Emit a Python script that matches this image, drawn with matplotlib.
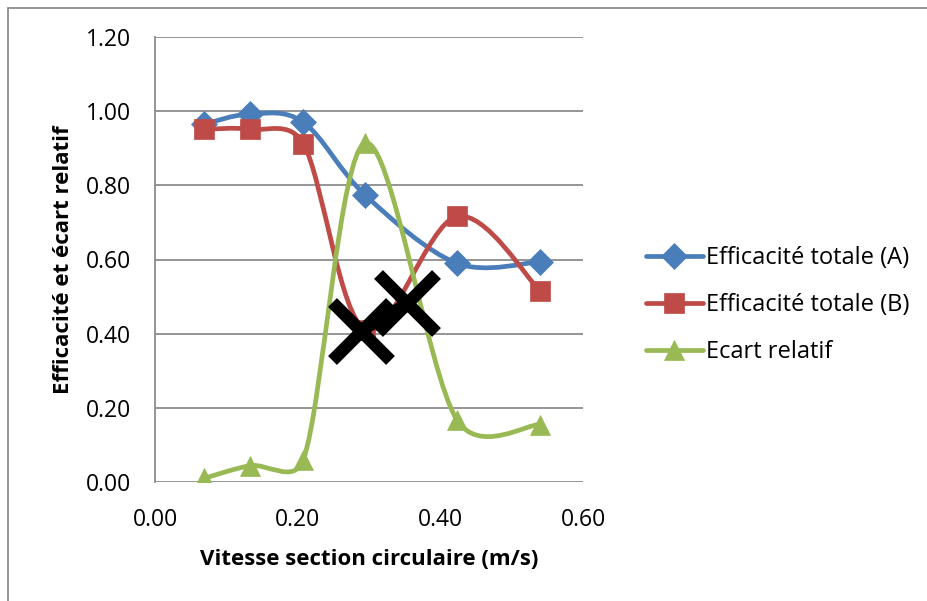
import numpy as np
import matplotlib
matplotlib.use("Agg")
import matplotlib.pyplot as plt
from matplotlib.path import Path
from matplotlib.patches import PathPatch, Rectangle
from matplotlib.lines import Line2D

plt.rcParams['font.family'] = ['Open Sans', 'DejaVu Sans']

vitesse = [0.069, 0.133, 0.208, 0.295, 0.423, 0.540]
eff_a = [0.965, 0.992, 0.970, 0.773, 0.590, 0.594]
eff_b = [0.951, 0.951, 0.912, 0.410, 0.716, 0.515]
ecart = [0.010, 0.044, 0.060, 0.914, 0.168, 0.155]
croix_x = [0.289, 0.353]
croix_y = [0.406, 0.483]

labels = ['Efficacité totale (A)', 'Efficacité totale (B)', 'Ecart relatif']
colors = ['#4A7EBB', '#BE4B48', '#98B954']
markers = ['D', 's', '^']
msizes = [13, 14, 14]
yticks = [0.0, 0.2, 0.4, 0.6, 0.8, 1.0, 1.2]
xticks = [0.0, 0.2, 0.4, 0.6]

AX_L, AX_R, AX_T, AX_B = 155, 583, 37, 482
XMAX, YMAX = 0.6, 1.2
SX = (AX_R - AX_L) / XMAX
SY = (AX_B - AX_T) / YMAX
LW = 3.4


def smooth_path(xs, ys):
    """Excel-like smoothed line: Bezier with control arms clamped to half a segment."""
    pts = np.column_stack([xs, ys]).astype(float)
    scr = pts * np.array([SX, SY])
    n = len(pts)
    verts = [pts[0]]
    codes = [Path.MOVETO]
    for i in range(n - 1):
        i0 = max(i - 1, 0)
        i3 = min(i + 2, n - 1)
        d12 = np.linalg.norm(scr[i + 1] - scr[i])
        d02 = np.linalg.norm(scr[i + 1] - scr[i0])
        d13 = np.linalg.norm(scr[i3] - scr[i])
        f1 = 1.0 if d02 / 6 < d12 / 2 else (d12 / 2) / (d02 / 6)
        f2 = 1.0 if d13 / 6 < d12 / 2 else (d12 / 2) / (d13 / 6)
        c1 = pts[i] + (pts[i + 1] - pts[i0]) / 6.0 * f1
        c2 = pts[i + 1] - (pts[i3] - pts[i]) / 6.0 * f2
        verts += [c1, c2, pts[i + 1]]
        codes += [Path.CURVE4] * 3
    return Path(verts, codes)


fig = plt.figure(figsize=(9.28, 6.01), dpi=100)
ax = fig.add_axes([AX_L / 928, 1 - AX_B / 601, (AX_R - AX_L) / 928, (AX_B - AX_T) / 601])
ax.set_xlim(0, XMAX)
ax.set_ylim(0, YMAX)

series = [eff_a, eff_b, ecart]
handles = []
for ys, lab, c, m, ms in zip(series, labels, colors, markers, msizes):
    patch = PathPatch(smooth_path(vitesse, ys), facecolor='none', edgecolor=c,
                      lw=LW, capstyle='round', joinstyle='round', zorder=3)
    ax.add_patch(patch)
    ax.plot(vitesse, ys, linestyle='none', marker=m, ms=ms, color=c, mec=c, mew=0.5, zorder=4)
    handles.append(Line2D([0], [0], color=c, lw=LW, marker=m, ms=ms, mec=c, mew=0.5,
                          solid_capstyle='round'))

ax.plot(croix_x, croix_y, color='black', lw=8, zorder=5, solid_capstyle='butt')
ax.plot(croix_x, croix_y, linestyle='none', marker='x', ms=42, mew=9,
        color='black', zorder=6)

ax.set_yticks(yticks)
ax.set_yticklabels([f'{v:.2f}' for v in yticks])
ax.set_xticks(xticks)
ax.set_xticklabels([f'{v:.2f}' for v in xticks])
ax.tick_params(axis='both', length=0, labelsize=16.5, colors='black')
ax.tick_params(axis='y', pad=17)
ax.tick_params(axis='x', pad=19)
ax.grid(axis='y', color='#8C8C8C', lw=1.3)
ax.set_axisbelow(True)
for s in ['top', 'right', 'bottom']:
    ax.spines[s].set_visible(False)
ax.spines['left'].set_color('#8C8C8C')
ax.spines['left'].set_linewidth(1.3)

ax.set_xlabel('Vitesse section circulaire (m/s)', fontsize=16, fontweight='bold', labelpad=12)
ax.set_ylabel('Efficacité et écart relatif', fontsize=16, fontweight='bold', labelpad=9)

fig.legend(handles, labels, loc='center left', bbox_to_anchor=(646 / 928, 1 - 305 / 601),
           frameon=False, fontsize=17, handlelength=2.4, handletextpad=0.15,
           labelspacing=0.98, borderpad=0, borderaxespad=0)

fig.patches.append(Rectangle((8 / 928, -0.1), 1.1, 1 - 8 / 601 + 0.1,
                             transform=fig.transFigure, fill=False,
                             edgecolor='#8C8C8C', lw=1.3))

fig.savefig('out.png', dpi=100)
